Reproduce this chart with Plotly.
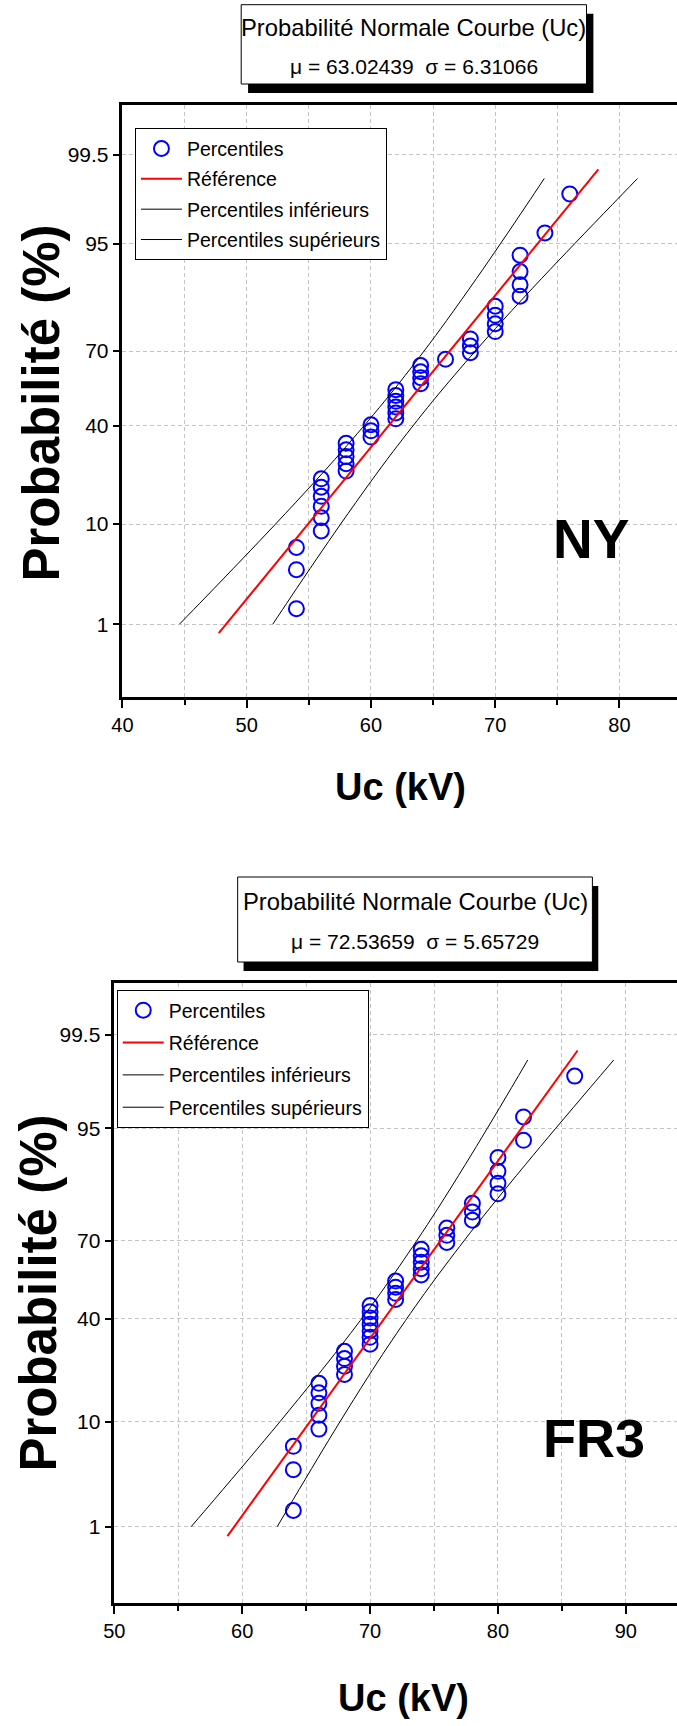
import math
import plotly.graph_objects as go

W, H = 677, 1726

# ---------------- data ----------------
# plotting positions (%) of the 41 ordered samples
prob_pct = [1.52, 3.94, 6.36, 8.79, 11.21, 13.64, 16.06, 18.48, 20.91, 23.33,
            25.76, 28.18, 30.61, 33.03, 35.45, 37.88, 40.30, 42.73, 45.15, 47.58,
            50.00, 52.42, 54.85, 57.27, 59.70, 62.12, 64.55, 66.97, 69.39, 71.82,
            74.24, 76.67, 79.09, 81.52, 83.94, 86.36, 88.79, 91.21, 93.64, 96.06,
            98.48]

ny_uc = [54, 54, 54, 56, 56, 56, 56, 56, 56, 58, 58, 58, 58, 58, 60, 60, 60,
         62, 62, 62, 62, 62, 62, 64, 64, 64, 64, 66, 68, 68, 68, 70, 70, 70, 70,
         72, 72, 72, 72, 74, 76]
fr3_uc = [64, 64, 64, 66, 66, 66, 66, 66, 68, 68, 68, 68, 70, 70, 70, 70, 70,
          70, 70, 72, 72, 72, 72, 74, 74, 74, 74, 74, 76, 76, 76, 78, 78, 78, 80,
          80, 80, 80, 82, 82, 86]

# reference (fitted) line end points
ref_prob = [0.776, 99.224]
ny_ref_x = [47.75, 78.30]
fr3_ref_x = [58.85, 86.23]

# confidence band curves
band_prob = [1, 2, 5, 10, 20, 30, 50, 70, 80, 90, 95, 98, 99]
ny_lower = [44.59, 46.63, 49.66, 52.32, 55.46, 57.65, 61.09, 64.27, 66.08, 68.49, 70.42, 72.55, 73.95]
ny_upper = [52.10, 53.50, 55.63, 57.56, 59.97, 61.78, 64.96, 68.40, 70.59, 73.73, 76.39, 79.42, 81.46]
fr3_lower = [56.01, 57.84, 60.56, 62.94, 65.75, 67.72, 70.81, 73.65, 75.28, 77.44, 79.17, 81.08, 82.33]
fr3_upper = [62.74, 64.00, 65.91, 67.64, 69.80, 71.42, 74.27, 77.35, 79.32, 82.14, 84.52, 87.24, 89.06]

ytick_prob = [1, 10, 40, 70, 95, 99.5]
ytick_text = ["1", "10", "40", "70", "95", "99.5"]

ny_title = ["Probabilité Normale Courbe (Uc)", "μ = 63.02439\u00a0\u00a0σ = 6.31066"]
fr3_title = ["Probabilité Normale Courbe (Uc)", "μ = 72.53659\u00a0\u00a0σ = 5.65729"]
legend_names = ["Percentiles", "Référence", "Percentiles inférieurs", "Percentiles supérieurs"]


# ---------------- probit scale (normal probability axis) ----------------
def probit(p_pct):
    p = p_pct / 100.0
    a = [-3.969683028665376e+01, 2.209460984245205e+02, -2.759285104469687e+02,
         1.383577518672690e+02, -3.066479806614716e+01, 2.506628277459239e+00]
    b = [-5.447609879822406e+01, 1.615858368580409e+02, -1.556989798598866e+02,
         6.680131188771972e+01, -1.328068155288572e+01]
    c = [-7.784894002430293e-03, -3.223964580411365e-01, -2.400758277161838e+00,
         -2.549671180376162e+00, 4.374664141464968e+00, 2.938163982698783e+00]
    d = [7.784695709041462e-03, 3.224671290700398e-01, 2.445134137142996e+00,
         3.754408661907416e+00]
    plow = 0.02425
    if p < plow:
        q = math.sqrt(-2 * math.log(p))
        return (((((c[0]*q+c[1])*q+c[2])*q+c[3])*q+c[4])*q+c[5]) / ((((d[0]*q+d[1])*q+d[2])*q+d[3])*q+1)
    if p > 1 - plow:
        q = math.sqrt(-2 * math.log(1 - p))
        return -(((((c[0]*q+c[1])*q+c[2])*q+c[3])*q+c[4])*q+c[5]) / ((((d[0]*q+d[1])*q+d[2])*q+d[3])*q+1)
    q = p - 0.5
    r = q * q
    return (((((a[0]*r+a[1])*r+a[2])*r+a[3])*r+a[4])*r+a[5])*q / (((((b[0]*r+b[1])*r+b[2])*r+b[3])*r+b[4])*r+1)


def Z(lst):
    return [probit(v) for v in lst]


def px(x):
    return x / W


def py(y):
    return 1 - y / H


FONT = "Liberation Sans, Arial, sans-serif"
GRID = "#c4c4c4"

fig = go.Figure()

panels = [
    dict(xa="x", ya="y", leg="legend", tag="a", uc=ny_uc, refx=ny_ref_x, lo=ny_lower, hi=ny_upper),
    dict(xa="x2", ya="y2", leg="legend2", tag="b", uc=fr3_uc, refx=fr3_ref_x, lo=fr3_lower, hi=fr3_upper),
]

for pnl in panels:
    t = pnl["tag"]
    fig.add_trace(go.Scatter(
        x=pnl["uc"], y=Z(prob_pct), mode="markers", name=legend_names[0], legendgroup=t + "1",
        marker=dict(symbol="circle-open", size=15, color="#0000ff", line=dict(width=2, color="#0000ff")),
        xaxis=pnl["xa"], yaxis=pnl["ya"], legend=pnl["leg"]))
    fig.add_trace(go.Scatter(
        x=pnl["refx"], y=Z(ref_prob), mode="lines", name=legend_names[1], legendgroup=t + "2",
        line=dict(color="#ff0000", width=2),
        xaxis=pnl["xa"], yaxis=pnl["ya"], legend=pnl["leg"]))
    fig.add_trace(go.Scatter(
        x=pnl["lo"], y=Z(band_prob), mode="lines", name=legend_names[2], legendgroup=t + "3",
        line=dict(color="#000000", width=1, shape="spline"),
        xaxis=pnl["xa"], yaxis=pnl["ya"], legend=pnl["leg"]))
    fig.add_trace(go.Scatter(
        x=pnl["hi"], y=Z(band_prob), mode="lines", name=legend_names[3], legendgroup=t + "4",
        line=dict(color="#000000", width=1, shape="spline"),
        xaxis=pnl["xa"], yaxis=pnl["ya"], legend=pnl["leg"]))

yt = Z(ytick_prob)


def xaxis_cfg(left_px, rng, ticks):
    return dict(
        domain=[px(left_px), 1.0], range=rng,
        tickmode="array", tickvals=ticks, ticktext=[str(t) for t in ticks],
        ticks="outside", ticklen=8, tickwidth=2, tickcolor="black",
        showline=True, linewidth=2.5, linecolor="black", mirror=True,
        showgrid=True, gridcolor=GRID, gridwidth=1, griddash="4px,3px",
        zeroline=False,
        tickfont=dict(family=FONT, size=20, color="black"),
        minor=dict(dtick=5, tick0=0, ticks="outside", ticklen=5, tickwidth=2, tickcolor="black",
                   showgrid=True, gridcolor=GRID, gridwidth=1, griddash="4px,3px"),
    )


def yaxis_cfg(top_px, bot_px):
    return dict(
        domain=[py(bot_px), py(top_px)], range=[-3.09, 3.09],
        tickmode="array", tickvals=yt, ticktext=ytick_text,
        ticks="outside", ticklen=7, tickwidth=2, tickcolor="black",
        showline=True, linewidth=2.5, linecolor="black", mirror=False,
        showgrid=True, gridcolor=GRID, gridwidth=1, griddash="4px,3px",
        zeroline=False,
        tickfont=dict(family=FONT, size=21, color="black"),
    )


xa1 = xaxis_cfg(113.3, [40, 84.63], [40, 50, 60, 70, 80])
xa1["anchor"] = "y"
ya1 = yaxis_cfg(105.3, 697.3)
ya1["anchor"] = "x"
xa2 = xaxis_cfg(105.0, [50, 94.0], [50, 60, 70, 80, 90])
xa2["anchor"] = "y2"
ya2 = yaxis_cfg(983.3, 1603.3)
ya2["anchor"] = "x2"

shapes = []
annotations = []


def title_box(x0, y0, x1, y1, dx, dy, lines, cy1, cy2):
    shapes.append(dict(type="rect", xref="paper", yref="paper",
                       x0=px(x0 + dx), x1=px(x1 + dx), y0=py(y1 + dy), y1=py(y0 + dy),
                       fillcolor="black", line=dict(width=0), layer="above"))
    shapes.append(dict(type="rect", xref="paper", yref="paper",
                       x0=px(x0), x1=px(x1), y0=py(y1), y1=py(y0),
                       fillcolor="white", line=dict(width=1, color="black"), layer="above"))
    cx = (x0 + x1) / 2
    annotations.append(dict(text=lines[0], x=px(cx), y=py(cy1), xref="paper", yref="paper",
                            xanchor="center", yanchor="middle", showarrow=False,
                            font=dict(family=FONT, size=23.8, color="black")))
    annotations.append(dict(text=lines[1], x=px(cx), y=py(cy2), xref="paper", yref="paper",
                            xanchor="center", yanchor="middle", showarrow=False,
                            font=dict(family=FONT, size=21, color="black")))


title_box(234, 4.7, 585, 84, 7, 9, ny_title, 27, 66)
title_box(230.4, 877, 591, 962, 6, 9, fr3_title, 901, 942)


def label(text, x, y, size, angle=0):
    annotations.append(dict(text="<b>%s</b>" % text, x=px(x), y=py(y),
                            xref="paper", yref="paper", xanchor="center", yanchor="middle",
                            showarrow=False, textangle=angle,
                            font=dict(family=FONT, size=size, color="black")))


label("Uc (kV)", 396, 787, 38)
label("Uc (kV)", 399, 1698, 38)
label("NY", 590, 539, 55)
label("FR3", 593, 1438, 54)
label("Probabilité (%)", 31, 403, 51, angle=-90)
label("Probabilité (%)", 27, 1293, 51, angle=-90)

leg_common = dict(xanchor="left", yanchor="top", bgcolor="white", bordercolor="black",
                  borderwidth=1, font=dict(family=FONT, size=19.5, color="black"),
                  traceorder="grouped", itemsizing="trace", groupclick="toggleitem",
                  itemwidth=41)

fig.update_layout(
    width=W, height=H, autosize=False,
    margin=dict(l=0, r=0, t=0, b=0),
    paper_bgcolor="white", plot_bgcolor="white",
    xaxis=xa1, yaxis=ya1, xaxis2=xa2, yaxis2=ya2,
    legend=dict(x=px(126), y=py(128.3), tracegroupgap=2, **leg_common),
    legend2=dict(x=px(107.5), y=py(990), tracegroupgap=4, **leg_common),
    shapes=shapes, annotations=annotations,
    showlegend=True,
)

fig.write_html("out.html")
